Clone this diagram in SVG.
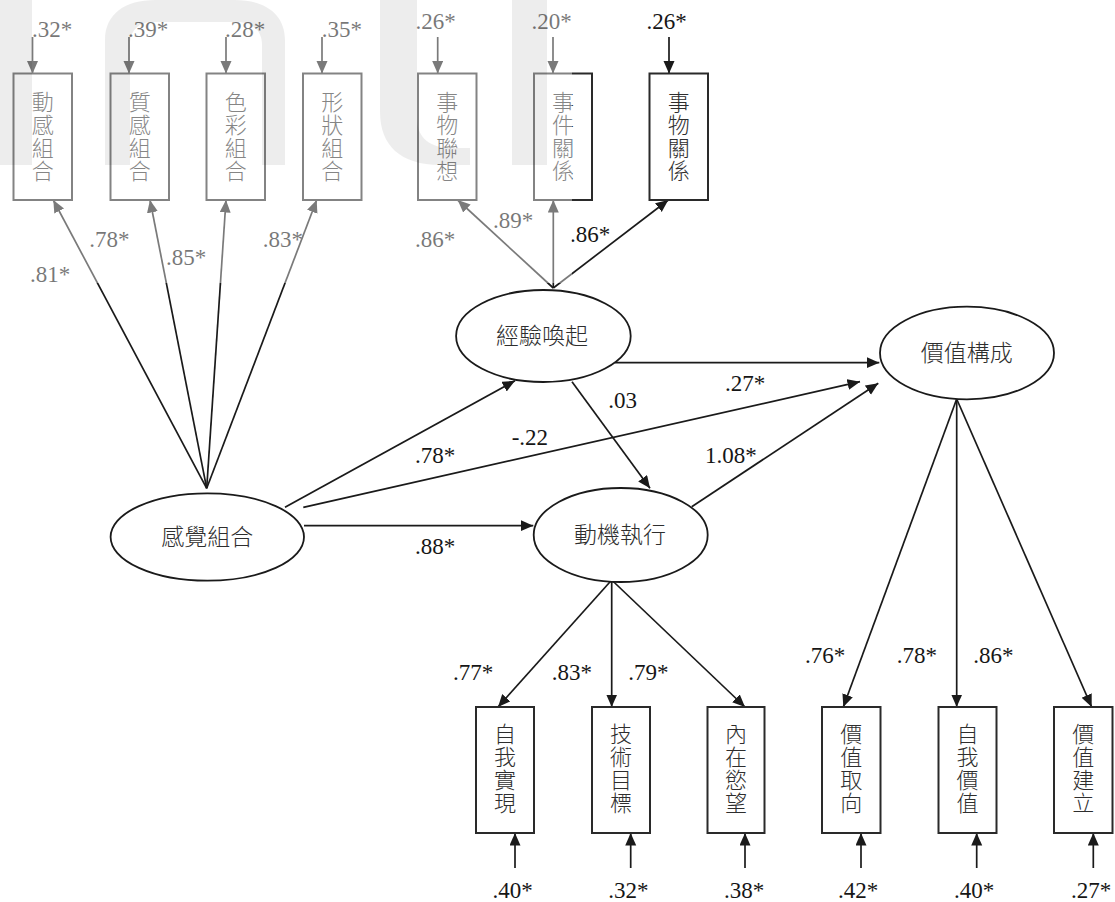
<svg xmlns="http://www.w3.org/2000/svg" width="1115" height="902" viewBox="0 0 1115 902">
<style>
.box{fill:#fff;stroke:#2a2a2a;stroke-width:2}
.ell{fill:#fff;stroke:#1a1a1a;stroke-width:1.8}
.ln{fill:none;stroke:#1a1a1a;stroke-width:1.7}
.arr{marker-end:url(#ah)}
.num{font-family:"Liberation Serif","Times New Roman","DejaVu Serif",serif;font-size:23px;fill:#161616}
.cjk{font-family:"Noto Sans CJK TC","Noto Sans CJK SC",sans-serif;font-size:22px;font-weight:300;fill:#2e2e2e;text-anchor:middle}
.lat{font-family:"Noto Sans CJK TC","Noto Sans CJK SC",sans-serif;font-size:23px;font-weight:300;fill:#2e2e2e;text-anchor:middle}
.mid{text-anchor:middle}
.wm{fill:#000;fill-opacity:0.07}
</style>
<defs>
<marker id="ah" markerUnits="userSpaceOnUse" markerWidth="13" markerHeight="12" refX="12.5" refY="5.5" orient="auto">
<path d="M0,0 L12.5,5.5 L0,11 Z" fill="#1a1a1a"/>
</marker>
</defs>
<rect width="1115" height="902" fill="#fff"/>

<g id="connectors">
<line class="ln arr" x1="206.7" y1="488.3" x2="53.3" y2="200"/>
<line class="ln arr" x1="206.7" y1="488.3" x2="150" y2="200"/>
<line class="ln arr" x1="206.7" y1="488.3" x2="226" y2="200"/>
<line class="ln arr" x1="206.7" y1="488.3" x2="316.7" y2="200"/>
<line class="ln arr" x1="553.3" y1="288" x2="457.7" y2="200"/>
<line class="ln arr" x1="553.3" y1="288" x2="553.3" y2="200"/>
<line class="ln arr" x1="553.3" y1="288" x2="668.3" y2="200"/>
<line class="ln arr" x1="611.7" y1="580" x2="498" y2="707"/>
<line class="ln arr" x1="611.7" y1="580" x2="611.7" y2="707"/>
<line class="ln arr" x1="611.7" y1="580" x2="745" y2="707"/>
<line class="ln arr" x1="956.7" y1="399" x2="843.3" y2="707"/>
<line class="ln arr" x1="956.7" y1="399" x2="956.7" y2="707"/>
<line class="ln arr" x1="956.7" y1="399" x2="1091.7" y2="707"/>
<line class="ln arr" x1="285" y1="507.3" x2="515" y2="380.7"/>
<line class="ln arr" x1="303.3" y1="507.3" x2="860" y2="381.7"/>
<line class="ln arr" x1="304" y1="525.7" x2="533.3" y2="525.7"/>
<line class="ln arr" x1="615" y1="362.7" x2="879.3" y2="362.7"/>
<line class="ln arr" x1="572" y1="381.7" x2="650" y2="488.3"/>
<line class="ln arr" x1="691.7" y1="506.7" x2="878.3" y2="383.3"/>
<line class="ln arr" x1="32.5" y1="37" x2="32.5" y2="73.5"/>
<line class="ln arr" x1="129" y1="37" x2="129" y2="73.5"/>
<line class="ln arr" x1="226" y1="37" x2="226" y2="73.5"/>
<line class="ln arr" x1="322" y1="37" x2="322" y2="73.5"/>
<line class="ln arr" x1="437.7" y1="37" x2="437.7" y2="73.5"/>
<line class="ln arr" x1="553" y1="37" x2="553" y2="73.5"/>
<line class="ln arr" x1="669" y1="37" x2="669" y2="73.5"/>
<line class="ln arr" x1="515" y1="868" x2="515" y2="833"/>
<line class="ln arr" x1="630.7" y1="868" x2="630.7" y2="833"/>
<line class="ln arr" x1="745" y1="868" x2="745" y2="833"/>
<line class="ln arr" x1="861" y1="868" x2="861" y2="833"/>
<line class="ln arr" x1="976.7" y1="868" x2="976.7" y2="833"/>
<line class="ln arr" x1="1093.3" y1="868" x2="1093.3" y2="833"/>
</g>

<g id="labels">
<text class="num" x="32" y="36.5">.32*</text>
<text class="num" x="128" y="36.5">.39*</text>
<text class="num" x="225" y="36.5">.28*</text>
<text class="num" x="321.7" y="36.5">.35*</text>
<text class="num mid" x="435.5" y="29">.26*</text>
<text class="num mid" x="551.7" y="29">.20*</text>
<text class="num mid" x="666.7" y="29">.26*</text>
<text class="num" x="30" y="281.7">.81*</text>
<text class="num" x="89.3" y="246.7">.78*</text>
<text class="num" x="166" y="265">.85*</text>
<text class="num" x="262.7" y="246.7">.83*</text>
<text class="num" x="415" y="246.7">.86*</text>
<text class="num" x="493" y="228.3">.89*</text>
<text class="num" x="570" y="242.3">.86*</text>
<text class="num" x="415" y="463.3">.78*</text>
<text class="num" x="511.7" y="445">-.22</text>
<text class="num" x="415" y="554">.88*</text>
<text class="num" x="725" y="390.7">.27*</text>
<text class="num" x="608.3" y="408.3">.03</text>
<text class="num" x="705" y="463.3">1.08*</text>
<text class="num" x="453" y="680">.77*</text>
<text class="num" x="551.7" y="680">.83*</text>
<text class="num" x="628.3" y="680">.79*</text>
<text class="num" x="805" y="663.3">.76*</text>
<text class="num" x="896.7" y="663.3">.78*</text>
<text class="num" x="973.3" y="663.3">.86*</text>
<text class="num mid" x="512.5" y="898">.40*</text>
<text class="num mid" x="628.3" y="898">.32*</text>
<text class="num mid" x="744" y="898">.38*</text>
<text class="num mid" x="858" y="898">.42*</text>
<text class="num mid" x="974" y="898">.40*</text>
<text class="num mid" x="1091" y="898">.27*</text>
</g>

<g id="n-dong-gan">
<rect class="box" x="13.5" y="73.5" width="58.5" height="126.5"/>
<text class="cjk"><tspan x="42.75" y="110">動</tspan><tspan x="42.75" y="133">感</tspan><tspan x="42.75" y="156">組</tspan><tspan x="42.75" y="179">合</tspan></text>
</g>
<g id="n-zhi-gan">
<rect class="box" x="110.5" y="73.5" width="58.5" height="126.5"/>
<text class="cjk"><tspan x="139.75" y="110">質</tspan><tspan x="139.75" y="133">感</tspan><tspan x="139.75" y="156">組</tspan><tspan x="139.75" y="179">合</tspan></text>
</g>
<g id="n-se-cai">
<rect class="box" x="206.5" y="73.5" width="58.5" height="126.5"/>
<text class="cjk"><tspan x="235.75" y="110">色</tspan><tspan x="235.75" y="133">彩</tspan><tspan x="235.75" y="156">組</tspan><tspan x="235.75" y="179">合</tspan></text>
</g>
<g id="n-xing-zhuang">
<rect class="box" x="303" y="73.5" width="58.5" height="126.5"/>
<text class="cjk"><tspan x="332.25" y="110">形</tspan><tspan x="332.25" y="133">狀</tspan><tspan x="332.25" y="156">組</tspan><tspan x="332.25" y="179">合</tspan></text>
</g>
<g id="n-shi-wu-lian-xiang">
<rect class="box" x="418" y="73.5" width="58.5" height="126.5"/>
<text class="cjk"><tspan x="447.25" y="110">事</tspan><tspan x="447.25" y="133">物</tspan><tspan x="447.25" y="156">聯</tspan><tspan x="447.25" y="179">想</tspan></text>
</g>
<g id="n-shi-jian-guan-xi">
<rect class="box" x="534" y="73.5" width="58" height="126.5"/>
<text class="cjk"><tspan x="563" y="110">事</tspan><tspan x="563" y="133">件</tspan><tspan x="563" y="156">關</tspan><tspan x="563" y="179">係</tspan></text>
</g>
<g id="n-shi-wu-guan-xi">
<rect class="box" x="649.5" y="73.5" width="58.5" height="126.5"/>
<text class="cjk"><tspan x="678.75" y="110">事</tspan><tspan x="678.75" y="133">物</tspan><tspan x="678.75" y="156">關</tspan><tspan x="678.75" y="179">係</tspan></text>
</g>

<g id="n-gan-jue-zu-he">
<ellipse class="ell" cx="207.3" cy="537" rx="96.7" ry="43.7"/>
<text class="lat" x="207.3" y="545">感覺組合</text>
</g>
<g id="n-jing-yan-huan-qi">
<ellipse class="ell" cx="543.4" cy="336" rx="87.3" ry="46"/>
<text class="lat" x="542" y="344">經驗喚起</text>
</g>
<g id="n-dong-ji-zhi-xing">
<ellipse class="ell" cx="620.7" cy="535" rx="87" ry="47"/>
<text class="lat" x="620" y="543">動機執行</text>
</g>
<g id="n-jia-zhi-gou-cheng">
<ellipse class="ell" cx="967" cy="353" rx="87" ry="46.3"/>
<text class="lat" x="966.7" y="361">價值構成</text>
</g>

<g id="n-zi-wo-shi-xian">
<rect class="box" x="476" y="707" width="58" height="126"/>
<text class="cjk"><tspan x="505" y="742">自</tspan><tspan x="505" y="765">我</tspan><tspan x="505" y="788">實</tspan><tspan x="505" y="811">現</tspan></text>
</g>
<g id="n-ji-shu-mu-biao">
<rect class="box" x="592" y="707" width="58" height="126"/>
<text class="cjk"><tspan x="621" y="742">技</tspan><tspan x="621" y="765">術</tspan><tspan x="621" y="788">目</tspan><tspan x="621" y="811">標</tspan></text>
</g>
<g id="n-nei-zai-yu-wang">
<rect class="box" x="707.5" y="707" width="57" height="126"/>
<text class="cjk"><tspan x="736" y="742">內</tspan><tspan x="736" y="765">在</tspan><tspan x="736" y="788">慾</tspan><tspan x="736" y="811">望</tspan></text>
</g>
<g id="n-jia-zhi-qu-xiang">
<rect class="box" x="822" y="707" width="58.5" height="126"/>
<text class="cjk"><tspan x="851.25" y="742">價</tspan><tspan x="851.25" y="765">值</tspan><tspan x="851.25" y="788">取</tspan><tspan x="851.25" y="811">向</tspan></text>
</g>
<g id="n-zi-wo-jia-zhi">
<rect class="box" x="938.5" y="707" width="58" height="126"/>
<text class="cjk"><tspan x="967.5" y="742">自</tspan><tspan x="967.5" y="765">我</tspan><tspan x="967.5" y="788">價</tspan><tspan x="967.5" y="811">值</tspan></text>
</g>
<g id="n-jia-zhi-jian-li">
<rect class="box" x="1054" y="707" width="58.5" height="126"/>
<text class="cjk"><tspan x="1083.25" y="742">價</tspan><tspan x="1083.25" y="765">值</tspan><tspan x="1083.25" y="788">建</tspan><tspan x="1083.25" y="811">立</tspan></text>
</g>

<g id="watermark">
<rect x="0" y="0" width="572" height="283" fill="#fff" fill-opacity="0.42"/>
<rect class="wm" x="0" y="0" width="32" height="165"/>
<path class="wm" d="M105,165 V40 C105,14 125,0 155,0 H235 C265,0 285,14 285,40 V165 H262 V45 C262,30 252,22 237,22 H153 C139,22 130,30 130,45 V165 Z"/>
<path class="wm" d="M380,0 H417 V118 C417,138 430,148 452,148 H470 V165 H440 C400,165 380,145 380,112 Z"/>
<rect class="wm" x="512" y="0" width="35" height="165"/>
</g>
</svg>
